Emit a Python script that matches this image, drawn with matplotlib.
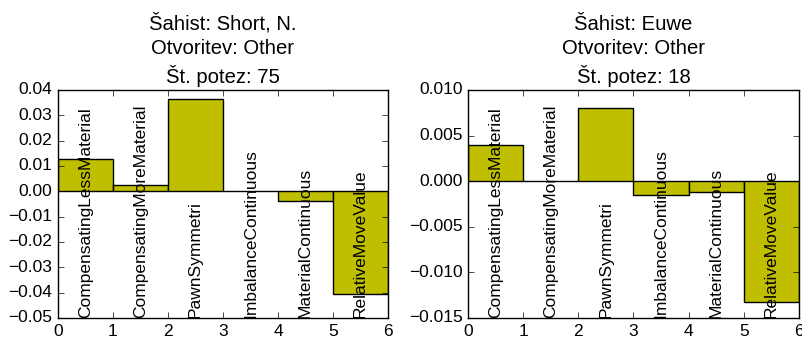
import matplotlib
matplotlib.use("Agg")
import matplotlib.pyplot as plt

plt.style.use("classic")
plt.rcParams["font.family"] = ["Liberation Sans", "DejaVu Sans"]
plt.rcParams["figure.facecolor"] = "white"

features = ["CompensatingLessMaterial", "CompensatingMoreMaterial", "PawnSymmetri",
            "ImbalanceContinuous", "MaterialContinuous", "RelativeMoveValue"]

player_a = "Short, N."
opening_a = "Other"
moves_a = 75
values_a = [0.0126, 0.0024, 0.0366, 0.0, -0.0037, -0.0407]
yticks_a = [-0.05, -0.04, -0.03, -0.02, -0.01, 0.00, 0.01, 0.02, 0.03, 0.04]

player_b = "Euwe"
opening_b = "Other"
moves_b = 18
values_b = [0.0040, 0.0, 0.0080, -0.00154, -0.00114, -0.01324]
yticks_b = [-0.015, -0.010, -0.005, 0.000, 0.005, 0.010]

fig = plt.figure(figsize=(8.03, 3.38), dpi=100)
ax1 = fig.add_axes([58 / 803, 20 / 338, 330 / 803, 228 / 338])
ax2 = fig.add_axes([468 / 803, 20 / 338, 331 / 803, 228 / 338])


def draw(ax, player, opening, moves, values, yticks, fmt):
    xs = range(len(values))
    ax.bar(xs, values, width=1.0, align="edge", color="y", edgecolor="black")
    ax.set_xlim(0, len(values))
    ax.set_ylim(yticks[0], yticks[-1])
    ax.set_yticks(yticks)
    ax.set_yticklabels([(fmt % t).replace("-", "\u2212") for t in yticks])
    ax.tick_params(labelsize=12.5)
    for i, name in enumerate(features):
        ax.text(i + 0.5, yticks[0], name, rotation=90, ha="center", va="bottom",
                fontsize=12.5)
    ax.set_title("Šahist: %s\nOtvoritev: %s\nŠt. potez: %d" % (player, opening, moves),
                 fontsize=14.6, linespacing=1.38)


draw(ax1, player_a, opening_a, moves_a, values_a, yticks_a, "%.2f")
draw(ax2, player_b, opening_b, moves_b, values_b, yticks_b, "%.3f")

fig.savefig("out.png", dpi=100)
